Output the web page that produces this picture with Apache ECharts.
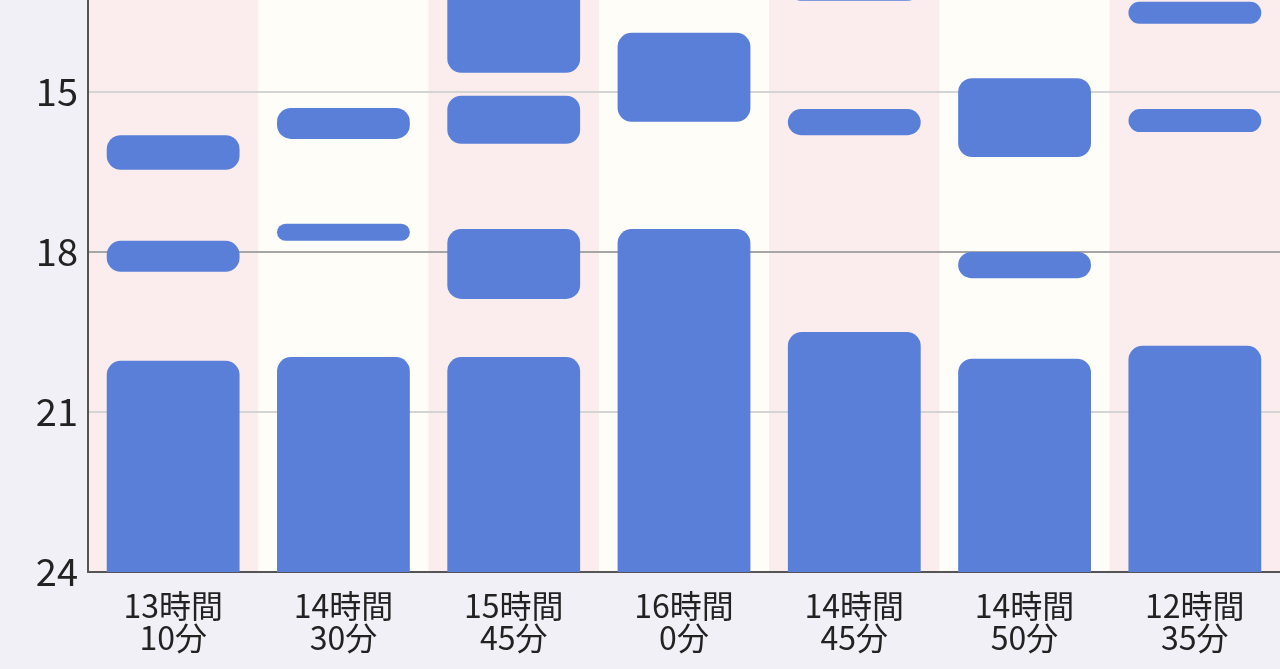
<!DOCTYPE html>
<html>
<head>
<meta charset="utf-8">
<script src="https://cdn.jsdelivr.net/npm/echarts@6/dist/echarts.min.js"></script>
<style>
  html, body { margin: 0; padding: 0; background: #f1f0f6; overflow: hidden; width: 1280px; height: 669px; }
  /* the top of the chart (12h) runs off the screen, as in the photo */
  #chart { position: absolute; left: 0; top: -68px; width: 1280px; height: 737px; }
</style>
</head>
<body>
<div id="chart"></div>
<script>
// sleep total per day (x axis labels)
var dayLabels = ['13時間\n10分', '14時間\n30分', '15時間\n45分', '16時間\n0分', '14時間\n45分', '14時間\n50分', '12時間\n35分'];

// one entry per sleep segment: day index, start hour, end hour
var segDay   = [0,     0,     0,     1,     1,     1,     2,     2,     2,     2,     3,     3,     4,     4,     4,     5,     5,     5,     6,     6,     6];
var segStart = [15.81, 17.79, 20.04, 15.30, 17.47, 19.97, 12.90, 15.07, 17.57, 19.97, 13.89, 17.57, 12.80, 15.32, 19.50, 14.74, 18.00, 20.00, 13.31, 15.32, 19.76];
var segEnd   = [16.46, 18.37, 24,    15.88, 17.79, 24,    14.64, 15.97, 18.88, 24,    15.56, 24,    13.29, 15.81, 24,    16.22, 18.49, 24,    13.72, 15.75, 24];

var yTicks = [12, 24, 3]; // min, max, interval

var segments = [];
for (var i = 0; i < segDay.length; i++) {
    segments.push([segDay[i], segStart[i], segEnd[i]]);
}

var chart = echarts.init(document.getElementById('chart'), null, { width: 1280, height: 737 });

function renderSeg(params, api) {
    var x = api.value(0);
    var s = api.value(1);
    var e = api.value(2);
    var p0 = api.coord([x, s]);
    var p1 = api.coord([x, e]);
    var w = api.size([1, 0])[0] * 0.78;
    var r = e >= 24 ? [14, 14, 0, 0] : 14;
    return {
        type: 'rect',
        shape: { x: p0[0] - w / 2, y: p0[1], width: w, height: p1[1] - p0[1], r: r },
        style: { fill: '#5a7fd8' }
    };
}

var option = {
    backgroundColor: '#f1f0f6',
    animation: false,
    grid: { left: 88, right: 0, top: 0, height: 640, outerBoundsMode: 'none' },
    textStyle: { fontFamily: 'Noto Sans CJK JP' },
    xAxis: {
        type: 'category',
        data: dayLabels,
        boundaryGap: true,
        z: 0,
        axisLine: { show: true, lineStyle: { color: '#555', width: 2 } },
        axisTick: { show: false },
        axisLabel: {
            color: '#222',
            fontSize: 32,
            lineHeight: 32,
            margin: 18,
            fontFamily: 'Noto Sans CJK JP'
        },
        splitLine: { show: false },
        splitArea: { show: true, areaStyle: { color: ['#fbeded', '#fffdf8'] } }
    },
    yAxis: {
        type: 'value',
        inverse: true,
        min: yTicks[0],
        max: yTicks[1],
        interval: yTicks[2],
        z: 1,
        axisLine: { show: true, lineStyle: { color: '#555', width: 2 } },
        axisTick: { show: false },
        axisLabel: { color: '#222', fontSize: 38, margin: 10, fontFamily: 'Noto Sans CJK JP' },
        splitLine: {
            show: true,
            lineStyle: { color: ['#d8d8d8', '#d4d4d4', '#a6a6a6', '#d4d4d4', '#555555'], width: 2 }
        }
    },
    series: [{
        type: 'custom',
        renderItem: renderSeg,
        encode: { x: 0, y: [1, 2] },
        z: 2,
        data: segments
    }]
};

chart.setOption(option);
</script>
</body>
</html>
